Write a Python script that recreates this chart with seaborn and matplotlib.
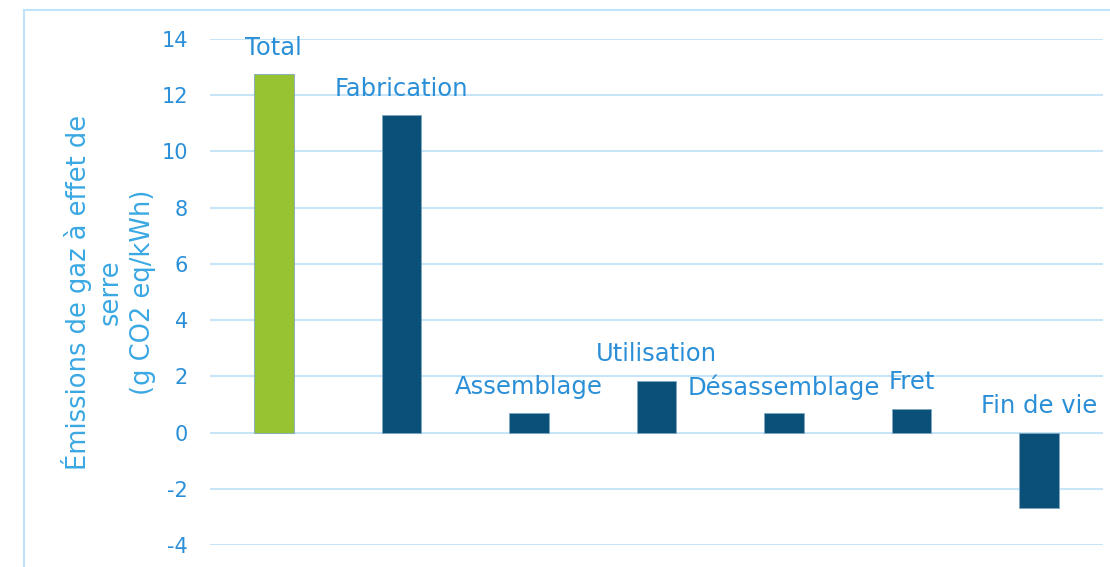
import matplotlib
matplotlib.use('Agg')
import matplotlib.pyplot as plt
import seaborn as sns
import pandas as pd
from matplotlib.lines import Line2D

# data
categories = ['Total', 'Fabrication', 'Assemblage', 'Utilisation', 'Désassemblage', 'Fret', 'Fin de vie']
values = [12.75, 11.3, 0.68, 1.85, 0.68, 0.85, -2.7]
bar_colors = ['#97C232', '#0B5079', '#0B5079', '#0B5079', '#0B5079', '#0B5079', '#0B5079']
y_ticks = [-4, -2, 0, 2, 4, 6, 8, 10, 12, 14]

TXT = '#2B8FD8'
YLAB = '#3AA8E3'
GRID = '#C8E5F7'

sns.set_theme(style='white')
plt.rcParams['font.family'] = ['DejaVu Sans']

df = pd.DataFrame({'cat': categories, 'val': values})

fig = plt.figure(figsize=(11.1, 5.67), dpi=100)
ax = fig.add_axes([210 / 1110, 22 / 567, (1103 - 210) / 1110, (545 - 39) / 567])

sns.barplot(data=df, x='cat', y='val', hue='cat', palette=bar_colors, width=0.31,
            legend=False, ax=ax, saturation=1, edgecolor='#7FA8C0', linewidth=0.6)

ax.set_ylim(-4, 14)
ax.set_xlim(-0.5, len(categories) - 0.5)
ax.set_yticks(y_ticks)
ax.set_yticklabels([str(t) for t in y_ticks], color=TXT, fontsize=15)
ax.tick_params(axis='y', length=0, pad=16)
ax.set_xticks([])
ax.set_xlabel('')
ax.yaxis.grid(True, color=GRID, linewidth=1.5)
ax.set_axisbelow(True)
for s in ax.spines.values():
    s.set_visible(False)

ax.set_ylabel('Émissions de gaz à effet de\nserre\n(g CO2 eq/kWh)', color=YLAB,
              fontsize=18.5, labelpad=4, linespacing=1.3)

# category labels above each bar (above zero for the negative one)
for i, (c, v) in enumerate(zip(categories, values)):
    ax.annotate(c, xy=(i, max(v, 0)), xytext=(0, 19), textcoords='offset points',
                ha='center', va='center', color=TXT, fontsize=17.5)

# light frame around the chart area (left and top edges visible)
fig.add_artist(Line2D([24 / 1110, 24 / 1110], [0, 1 - 10 / 567], transform=fig.transFigure,
                      color='#BFE3F8', linewidth=1.5))
fig.add_artist(Line2D([24 / 1110, 1], [1 - 10 / 567, 1 - 10 / 567], transform=fig.transFigure,
                      color='#BFE3F8', linewidth=1.5))

plt.savefig('out.png', dpi=100)
plt.close()
